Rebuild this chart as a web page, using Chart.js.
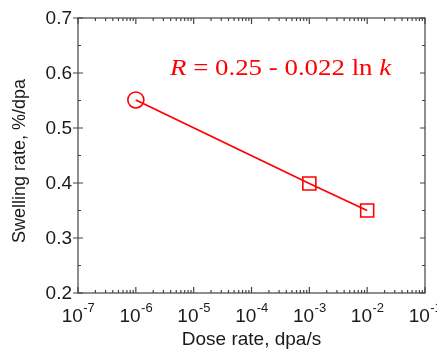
<!DOCTYPE html>
<html>
<head>
<meta charset="utf-8">
<script src="https://cdn.jsdelivr.net/npm/chart.js@4.4.0/dist/chart.umd.min.js"></script>
<style>
  html, body { margin: 0; padding: 0; background: #fff; }
  #wrap { width: 437px; height: 353px; }
</style>
</head>
<body>
<div id="wrap"><canvas id="chart" width="437" height="353"></canvas></div>
<script>
// data
const doseRates = [1e-6, 1e-3, 1e-2];           // dpa/s
const swellingRates = [0.551, 0.399, 0.350];    // %/dpa
const markerStyles = ['circle', 'rect', 'rect'];
const xTickExponents = [-7, -6, -5, -4, -3, -2, -1];
const yTickValues = [0.2, 0.3, 0.4, 0.5, 0.6, 0.7];
const yMinorValues = [0.25, 0.35, 0.45, 0.55, 0.65];
const xTitle = 'Dose rate, dpa/s';
const yTitle = 'Swelling rate, %/dpa';

const RED = '#ff0000';
const AXIS = '#444';
const INK = '#1a1a1a';
const SANS = '"Liberation Sans", Arial, sans-serif';
const SERIF = '"Liberation Serif", "Times New Roman", serif';

// ticks, frame and text labels drawn on top of the library scales
const axesPlugin = {
    id: 'originAxes',
    afterDraw(chart) {
        const ctx = chart.ctx;
        const { left, right, top, bottom } = chart.chartArea;
        const xs = chart.scales.x, ys = chart.scales.y;
        ctx.save();
        ctx.strokeStyle = AXIS;
        ctx.lineWidth = 1.2;
        ctx.strokeRect(left, top, right - left, bottom - top);

        ctx.beginPath();
        // x ticks, bottom and top, inward
        xTickExponents.forEach((e, i) => {
            const px = xs.getPixelForValue(Math.pow(10, e));
            ctx.moveTo(px, bottom); ctx.lineTo(px, bottom - 6);
            ctx.moveTo(px, top); ctx.lineTo(px, top + 6);
            if (i < xTickExponents.length - 1) {
                for (let m = 2; m <= 9; m++) {
                    const mx = xs.getPixelForValue(m * Math.pow(10, e));
                    ctx.moveTo(mx, bottom); ctx.lineTo(mx, bottom - 3);
                    ctx.moveTo(mx, top); ctx.lineTo(mx, top + 3);
                }
            }
        });
        // y ticks
        yTickValues.forEach(v => {
            const py = ys.getPixelForValue(v);
            ctx.moveTo(left - 5, py); ctx.lineTo(left + 5, py);
            ctx.moveTo(right, py); ctx.lineTo(right - 5, py);
        });
        yMinorValues.forEach(v => {
            const py = ys.getPixelForValue(v);
            ctx.moveTo(left, py); ctx.lineTo(left + 3, py);
            ctx.moveTo(right, py); ctx.lineTo(right - 3, py);
        });
        ctx.stroke();

        // y tick labels
        ctx.fillStyle = INK;
        ctx.font = '19px ' + SANS;
        ctx.textAlign = 'right';
        ctx.textBaseline = 'middle';
        yTickValues.forEach(v => {
            ctx.fillText(v.toFixed(1), left - 6, ys.getPixelForValue(v) + 1);
        });

        // x tick labels 10^n
        ctx.textAlign = 'left';
        ctx.textBaseline = 'alphabetic';
        xTickExponents.forEach(e => {
            const px = xs.getPixelForValue(Math.pow(10, e));
            ctx.font = '19px ' + SANS;
            const wBase = ctx.measureText('10').width;
            ctx.font = '13px ' + SANS;
            const sup = String(e);
            const wSup = ctx.measureText(sup).width;
            const x0 = px - (wBase + wSup) / 2;
            ctx.font = '19px ' + SANS;
            ctx.fillText('10', x0, 322);
            ctx.font = '13px ' + SANS;
            ctx.fillText(sup, x0 + wBase + 0.5, 312);
        });

        // axis titles
        ctx.font = '19px ' + SANS;
        ctx.textAlign = 'center';
        ctx.fillText(xTitle, (left + right) / 2, 345);
        ctx.save();
        ctx.translate(25, 161);
        ctx.rotate(-Math.PI / 2);
        ctx.font = '18px ' + SANS;
        ctx.fillText(yTitle, 0, 0);
        ctx.restore();

        // fit equation
        const parts = [
            ['italic ', 'R'], ['', ' = 0.25 - 0.022 ln '], ['italic ', 'k']
        ];
        ctx.fillStyle = RED;
        ctx.textAlign = 'left';
        ctx.save();
        ctx.translate(170, 75);
        ctx.scale(1.12, 1);
        let x = 0;
        parts.forEach(([style, txt]) => {
            ctx.font = style + '24px ' + SERIF;
            ctx.fillText(txt, x, 0);
            x += ctx.measureText(txt).width;
        });
        ctx.restore();
        ctx.restore();
    }
};

new Chart(document.getElementById('chart'), {
    type: 'scatter',
    data: {
        datasets: [{
            data: doseRates.map((d, i) => ({ x: d, y: swellingRates[i] })),
            showLine: true,
            borderColor: RED,
            borderWidth: 1.8,
            pointStyle: markerStyles,
            pointRadius: [8, 9.2, 9.2],
            pointBorderColor: RED,
            pointBackgroundColor: 'rgba(0,0,0,0)',
            pointBorderWidth: 1.6
        }]
    },
    options: {
        responsive: false,
        animation: false,
        layout: { padding: { left: 78, right: 12, top: 18, bottom: 60 } },
        plugins: { legend: { display: false }, tooltip: { enabled: false } },
        scales: {
            x: { type: 'logarithmic', min: 1e-7, max: 1e-1, display: false },
            y: { type: 'linear', min: 0.2, max: 0.7, display: false }
        }
    },
    plugins: [axesPlugin]
});
</script>
</body>
</html>
